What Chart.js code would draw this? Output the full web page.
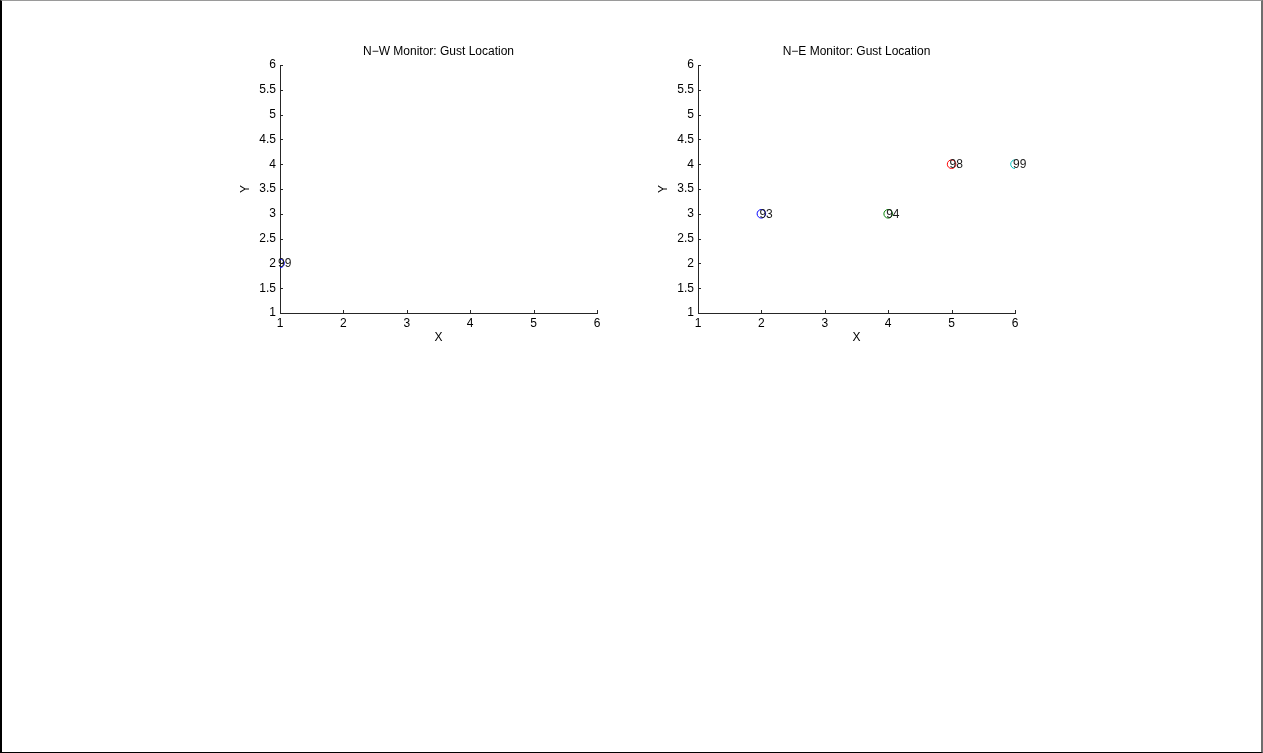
<!DOCTYPE html>
<html>
<head>
<meta charset="utf-8">
<script src="https://cdn.jsdelivr.net/npm/chart.js@4.4.1/dist/chart.umd.min.js"></script>
<style>
  html, body { margin: 0; padding: 0; background: #fff; }
  #frame { position: absolute; left: 0; top: 0; width: 1263px; height: 753px; box-sizing: border-box;
    border-top: 1px solid #9a9a9a; border-left: 2px solid #000; border-right: 2px solid #6e6e6e; border-bottom: 1px solid #000; }
  .wrap { position: absolute; top: 40px; width: 390px; height: 305px; }
  #w1 { left: 230px; }
  #w2 { left: 648px; }
</style>
</head>
<body>
<div id="frame"></div>
<div class="wrap" id="w1"><canvas id="c1"></canvas></div>
<div class="wrap" id="w2"><canvas id="c2"></canvas></div>
<script>
// ---- data ----
const titles = ["N\u2212W Monitor: Gust Location", "N\u2212E Monitor: Gust Location"];
const xTicks = [1, 2, 3, 4, 5, 6];
const yTicks = [1, 1.5, 2, 2.5, 3, 3.5, 4, 4.5, 5, 5.5, 6];

const nwX = [1];
const nwY = [2];
const nwLabels = ["99"];
const nwColors = ["#0000ff"];

const neX = [2, 4, 5, 6];
const neY = [3, 3, 4, 4];
const neLabels = ["93", "94", "98", "99"];
const neColors = ["#0000ff", "#008000", "#ff0000", "#00bfbf"];

const FONT = "'Liberation Sans', Arial, Helvetica, sans-serif";
const FS = 12;

const customDraw = {
  id: 'customDraw',
  afterDraw(chart, args, opts) {
    const ctx = chart.ctx;
    const ca = chart.chartArea;
    const xs = chart.scales.x, ys = chart.scales.y;
    ctx.save();
    // inward tick marks
    ctx.strokeStyle = '#262626';
    ctx.lineWidth = 1;
    ctx.beginPath();
    xTicks.forEach(v => {
      const px = Math.round(xs.getPixelForValue(v)) + 0.5;
      ctx.moveTo(px, ca.bottom);
      ctx.lineTo(px, ca.bottom - 3);
    });
    yTicks.forEach(v => {
      const py = Math.round(ys.getPixelForValue(v)) + 0.5;
      ctx.moveTo(ca.left, py);
      ctx.lineTo(ca.left + 3, py);
    });
    ctx.stroke();
    // title
    ctx.fillStyle = '#000';
    ctx.font = FS + 'px ' + FONT;
    ctx.textAlign = 'center';
    ctx.textBaseline = 'middle';
    ctx.fillText(opts.title, (ca.left + ca.right) / 2, ca.top - 13);
    // point labels
    ctx.textAlign = 'left';
    ctx.fillStyle = '#1a1a1a';
    const ds = chart.data.datasets[0];
    ds.data.forEach((p, i) => {
      const px = xs.getPixelForValue(p.x);
      const py = ys.getPixelForValue(p.y);
      ctx.fillText(opts.labels[i], px - 2, py + 0.5);
    });
    ctx.restore();
  }
};

function makeChart(id, title, xv, yv, labels, colors) {
  const data = xv.map((x, i) => ({ x: x, y: yv[i] }));
  return new Chart(document.getElementById(id), {
    type: 'scatter',
    data: {
      datasets: [{
        data: data,
        pointStyle: 'circle',
        pointRadius: 4.3,
        pointHoverRadius: 4.3,
        pointBorderWidth: 1,
        pointBorderColor: colors,
        pointBackgroundColor: 'rgba(0,0,0,0)',
        showLine: false
      }]
    },
    options: {
      responsive: true,
      maintainAspectRatio: false,
      animation: false,
      events: [],
      layout: { padding: { top: 25, right: 23, left: 0, bottom: 0 } },
      plugins: {
        legend: { display: false },
        tooltip: { enabled: false },
        title: { display: false },
        customDraw: { title: title, labels: labels }
      },
      scales: {
        x: {
          type: 'linear',
          min: 1, max: 6,
          afterBuildTicks: s => { s.ticks = xTicks.map(v => ({ value: v })); },
          afterFit: s => { s.height = 32; },
          ticks: { color: '#000', font: { family: FONT, size: FS }, padding: 3, maxRotation: 0, autoSkip: false },
          grid: { display: true, drawOnChartArea: false, drawTicks: false },
          border: { display: true, color: '#262626', width: 1 },
          title: { display: true, text: 'X', color: '#000', font: { family: FONT, size: FS }, padding: { top: 0, bottom: 0 } }
        },
        y: {
          type: 'linear',
          min: 1, max: 6,
          afterBuildTicks: s => { s.ticks = yTicks.map(v => ({ value: v })); },
          afterFit: s => { s.width = 50; },
          ticks: { color: '#000', font: { family: FONT, size: FS }, padding: 4, autoSkip: false,
                   callback: v => String(v) },
          grid: { display: true, drawOnChartArea: false, drawTicks: false },
          border: { display: true, color: '#262626', width: 1 },
          title: { display: true, text: 'Y', color: '#000', font: { family: FONT, size: FS }, padding: { top: 8, bottom: 0 } }
        }
      }
    },
    plugins: [customDraw]
  });
}

makeChart('c1', titles[0], nwX, nwY, nwLabels, nwColors);
makeChart('c2', titles[1], neX, neY, neLabels, neColors);
</script>
</body>
</html>
